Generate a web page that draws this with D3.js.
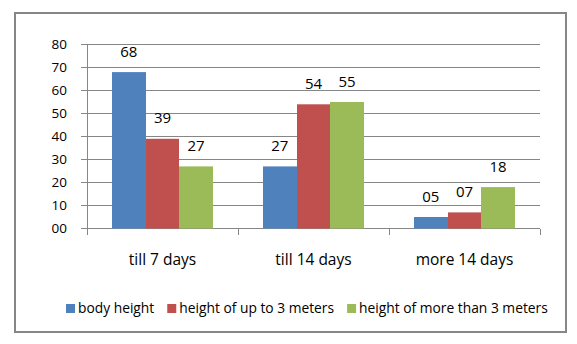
<!DOCTYPE html>
<html>
<head>
<meta charset="UTF-8">
<title>bar chart days</title>
<script src="https://cdn.jsdelivr.net/npm/d3@7"></script>
<style>
	body { margin: 0; background: #fff; }
	text { font-family: "Open Sans", sans-serif; fill: #000; }
	.ytick { font-size: 13.5px; text-anchor: end; }
	.amount { font-size: 15px; text-anchor: middle; }
	.name { font-size: 15.5px; text-anchor: middle; }
	.legend text { font-size: 13.8px; }
	.grid line, .axis line { stroke: #868686; stroke-width: 1; shape-rendering: crispEdges; }
</style>
</head>
<body>
<div id="div_main"></div>
<script>
	// data
	var categories = ["till 7 days", "till 14 days", "more 14 days"];
	var series = ["body height", "height of up to 3 meters", "height of more than 3 meters"];
	var bodyHeight = [68, 27, 5];
	var upTo3m = [39, 54, 7];
	var moreThan3m = [27, 55, 18];
	var valueLabels = [["68", "27", "05"], ["39", "54", "07"], ["27", "55", "18"]];
	var yTicks = [0, 10, 20, 30, 40, 50, 60, 70, 80];
	var yTickLabels = ["00", "10", "20", "30", "40", "50", "60", "70", "80"];
	var colors = ["#4F81BD", "#C0504D", "#9BBB59"];

	var seriesValues = [bodyHeight, upTo3m, moreThan3m];

	var svg_w = 577, svg_h = 344;
	var plotLeft = 87, plotRight = 540, plotTop = 44.5, plotBottom = 228.5;

	var svg = d3.select("#div_main").append("svg")
		.attr("width", svg_w)
		.attr("height", svg_h);

	// outer frame
	svg.append("rect")
		.attr("x", 15).attr("y", 13)
		.attr("width", 551).attr("height", 319)
		.attr("fill", "none")
		.attr("stroke", "#868686")
		.attr("stroke-width", 2);

	// scales
	var scaleX = d3.scaleBand().domain(categories).range([plotLeft, plotRight]);
	var bw = scaleX.bandwidth();
	var scaleSeries = d3.scaleBand().domain(series).range([bw * 0.166, bw * 0.834]);
	var scaleY = d3.scaleLinear().domain([0, 80]).range([plotBottom, plotTop]);

	// grid lines (with small outward tick)
	svg.append("g").attr("class", "grid")
		.selectAll("line")
		.data(yTicks)
		.enter()
		.append("line")
			.attr("x1", plotLeft - 6)
			.attr("x2", plotRight)
			.attr("y1", function (d) { return scaleY(d); })
			.attr("y2", function (d) { return scaleY(d); });

	// y axis line + tick labels
	var axis = svg.append("g").attr("class", "axis");
	axis.append("line")
		.attr("x1", plotLeft).attr("x2", plotLeft)
		.attr("y1", scaleY(80)).attr("y2", scaleY(0));

	svg.selectAll("text.ytick")
		.data(yTicks)
		.enter()
		.append("text")
			.attr("class", "ytick")
			.attr("x", plotLeft - 20)
			.attr("y", function (d) { return scaleY(d); })
			.attr("dy", "0.36em")
			.text(function (d, i) { return yTickLabels[i]; });

	// x axis ticks on band edges
	var edges = categories.map(function (c) { return scaleX(c); }).concat([plotRight]);
	axis.selectAll("line.xtick")
		.data(edges)
		.enter()
		.append("line")
			.attr("class", "xtick")
			.attr("x1", function (d) { return d; })
			.attr("x2", function (d) { return d; })
			.attr("y1", scaleY(0))
			.attr("y2", scaleY(0) + 6);

	// bars
	var groups = svg.selectAll("g.series")
		.data(seriesValues)
		.enter()
		.append("g")
			.attr("class", "series")
			.attr("fill", function (d, i) { return colors[i]; });

	groups.each(function (vals, si) {
		var g = d3.select(this);
		g.selectAll("rect")
			.data(vals)
			.enter()
			.append("rect")
				.attr("x", function (d, i) { return Math.round(scaleX(categories[i]) + scaleSeries(series[si])); })
				.attr("y", function (d) { return scaleY(d); })
				.attr("width", function (d, i) {
					var x0 = Math.round(scaleX(categories[i]) + scaleSeries(series[si]));
					var x1 = Math.round(scaleX(categories[i]) + scaleSeries(series[si]) + scaleSeries.bandwidth());
					return x1 - x0;
				})
				.attr("height", function (d) { return scaleY(0) - scaleY(d); });

		g.selectAll("text.amount")
			.data(vals)
			.enter()
			.append("text")
				.attr("class", "amount")
				.attr("x", function (d, i) { return scaleX(categories[i]) + scaleSeries(series[si]) + scaleSeries.bandwidth() / 2; })
				.attr("y", function (d) { return scaleY(d) - 15.5; })
				.text(function (d, i) { return valueLabels[si][i]; });
	});

	// category names
	svg.selectAll("text.name")
		.data(categories)
		.enter()
		.append("text")
			.attr("class", "name")
			.attr("x", function (d) { return scaleX(d) + bw / 2; })
			.attr("y", 265)
			.text(function (d) { return d; });

	// legend
	var legend = svg.append("g").attr("class", "legend");
	var lx = 66;
	series.forEach(function (s, i) {
		legend.append("rect")
			.attr("x", lx).attr("y", 304)
			.attr("width", 9).attr("height", 9)
			.attr("fill", colors[i]);
		var t = legend.append("text")
			.attr("x", lx + 12)
			.attr("y", 313)
			.text(s);
		lx = lx + 12 + t.node().getComputedTextLength() + 13;
	});
</script>
</body>
</html>
